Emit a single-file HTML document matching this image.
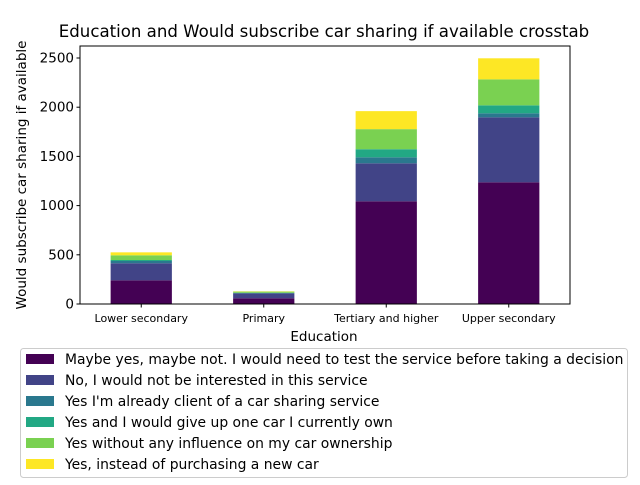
<!DOCTYPE html>
<html><head><meta charset="utf-8"><style>
body{margin:0;background:#fff}
svg text{font-family:"DejaVu Sans","Liberation Sans",sans-serif;fill:#000}
</style></head><body>
<svg id="chart" width="640" height="480" xmlns="http://www.w3.org/2000/svg">
<text x="324" y="37" font-size="16.6" text-anchor="middle">Education and Would subscribe car sharing if available crosstab</text>
<g id="bars"></g>
<g id="axes"></g>
<text x="324" y="341" font-size="13.5" text-anchor="middle">Education</text>
<text transform="translate(26,175) rotate(-90)" font-size="13.5" text-anchor="middle">Would subscribe car sharing if available</text>
<g id="legend"></g>
</svg>
<script>
const categories = ["Lower secondary","Primary","Tertiary and higher","Upper secondary"];
const seriesNames = ["Maybe yes, maybe not. I would need to test the service before taking a decision","No, I would not be interested in this service","Yes I'm already client of a car sharing service","Yes and I would give up one car I currently own","Yes without any influence on my car ownership","Yes, instead of purchasing a new car"];
const colors = ["#440154","#414487","#2a788e","#22a884","#7ad151","#fde725"];
const maybeVals = [241,58,1044,1237];
const noVals = [173,50,386,660];
const clientVals = [23,3,61,41];
const giveUpVals = [10,3,82,81];
const withoutVals = [48,12,204,264];
const insteadVals = [30,3,183,214];
const yTicks = [0,500,1000,1500,2000,2500];
const series = [maybeVals,noVals,clientVals,giveUpVals,withoutVals,insteadVals];
const NS="http://www.w3.org/2000/svg";
const L=80,R=570,T=46,B=304,yMax=2622;
const ys=v=>B-v/yMax*(B-T);
const band=(R-L)/categories.length;
const xc=i=>L+band*(i+0.5);
const bw=band*0.5;
function mk(t,a,p){const e=document.createElementNS(NS,t);for(const k in a)e.setAttribute(k,a[k]);p.appendChild(e);return e;}
const bars=document.getElementById('bars');
categories.forEach((c,i)=>{let cum=0;series.forEach((s,j)=>{const v=s[i];
const r=mk('rect',{x:xc(i)-bw/2,y:ys(cum+v),width:bw,height:ys(cum)-ys(cum+v),fill:colors[j]},bars);


cum+=v;});});
const ax=document.getElementById('axes');
const fr=mk('rect',{x:L,y:T,width:R-L,height:B-T,fill:'none',stroke:'#000','stroke-width':1},ax);


yTicks.forEach(t=>{const y=ys(t);mk('line',{x1:L-3.5,x2:L,y1:y,y2:y,stroke:'#000'},ax);
const tx=mk('text',{x:L-6,y:y+4.5,'font-size':13.5,'text-anchor':'end'},ax);tx.textContent=t;

});
categories.forEach((c,i)=>{mk('line',{x1:xc(i),x2:xc(i),y1:B,y2:B+3.5,stroke:'#000'},ax);
const tx=mk('text',{x:xc(i),y:322,'font-size':11,'text-anchor':'middle'},ax);tx.textContent=c;

});
const lg=document.getElementById('legend');
const lb=mk('rect',{x:20.5,y:348.5,width:607,height:129,rx:3,fill:'#fff',stroke:'#ccc'},lg);


seriesNames.forEach((n,j)=>{const y=359+j*21;
const p=mk('rect',{x:26,y:y-5,width:28,height:10,fill:colors[j]},lg);


const t=mk('text',{x:65,y:y+5,'font-size':13.9},lg);t.textContent=n;

});
</script>
</body></html>
